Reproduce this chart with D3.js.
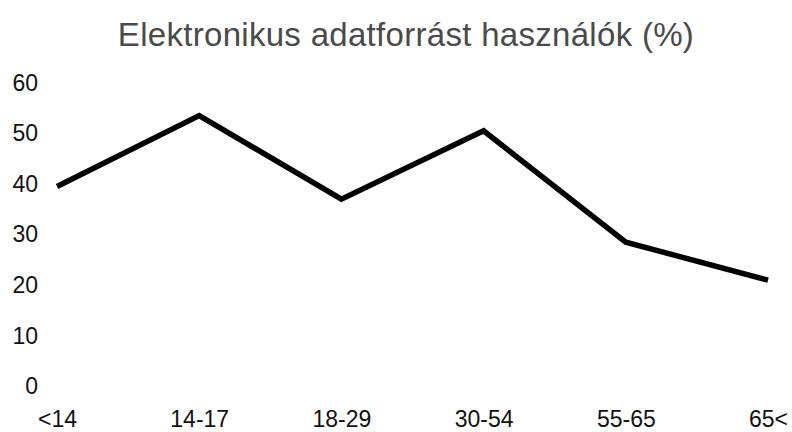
<!DOCTYPE html>
<html>
<head>
<meta charset="utf-8">
<script src="https://cdn.jsdelivr.net/npm/d3@7"></script>
<style>
  body { margin: 0; background: #fff; }
  svg { display: block; font-family: "Liberation Sans", Arial, sans-serif; }
</style>
</head>
<body>
<svg id="chart" width="792" height="432"></svg>
<script>
const title = 'Elektronikus adatforrást használók (%)';
const categories = ['<14', '14-17', '18-29', '30-54', '55-65', '65<'];
const values = [39.5, 53.5, 37, 50.5, 28.5, 21];
const yTicks = [0, 10, 20, 30, 40, 50, 60];

const svg = d3.select('#chart');

const x = d3.scalePoint()
  .domain(categories)
  .range([57, 768]);

const y = d3.scaleLinear()
  .domain([0, 60])
  .range([386.5, 82.7]);

// title
svg.append('text')
  .attr('x', 406)
  .attr('y', 46)
  .attr('text-anchor', 'middle')
  .attr('font-size', 33)
  .attr('letter-spacing', 0.3)
  .attr('fill', '#4a4a4a')
  .text(title);

// y axis (labels only)
const yAxis = svg.append('g')
  .attr('transform', 'translate(38,0)')
  .call(d3.axisLeft(y).tickValues(yTicks).tickSize(0).tickPadding(0));
yAxis.select('.domain').remove();
yAxis.selectAll('text')
  .attr('font-size', 23)
  .attr('font-family', '"Liberation Sans", Arial, sans-serif')
  .attr('fill', '#111');

// x axis (labels only)
const xAxis = svg.append('g')
  .attr('transform', 'translate(0,411)')
  .call(d3.axisBottom(x).tickSize(0).tickPadding(0));
xAxis.select('.domain').remove();
xAxis.selectAll('text')
  .attr('font-size', 23)
  .attr('font-family', '"Liberation Sans", Arial, sans-serif')
  .attr('fill', '#111');

// line
const line = d3.line()
  .x((d, i) => x(categories[i]))
  .y(d => y(d));

svg.append('path')
  .datum(values)
  .attr('d', line)
  .attr('fill', 'none')
  .attr('stroke', '#000')
  .attr('stroke-width', 5.5)
  .attr('stroke-linejoin', 'miter');
</script>
</body>
</html>
